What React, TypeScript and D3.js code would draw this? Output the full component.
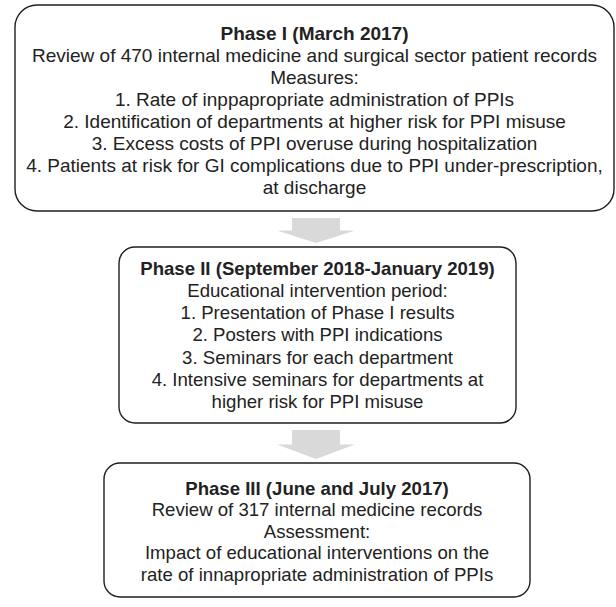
import React, { useEffect, useRef } from 'react';
import * as d3 from 'd3';

// Text of the three phases
const phaseTitles = [
  'Phase I (March 2017)',
  'Phase II (September 2018-January 2019)',
  'Phase III (June and July 2017)',
];

const phaseOneLines = [
  'Review of 470 internal medicine and surgical sector patient records',
  'Measures:',
  '1. Rate of inppapropriate administration of PPIs',
  '2. Identification of departments at higher risk for PPI misuse',
  '3. Excess costs of PPI overuse during hospitalization',
  '4. Patients at risk for GI complications due to PPI under-prescription,',
  'at discharge',
];

const phaseTwoLines = [
  'Educational intervention period:',
  '1. Presentation of Phase I results',
  '2. Posters with PPI indications',
  '3. Seminars for each department',
  '4. Intensive seminars for departments at',
  'higher risk for PPI misuse',
];

const phaseThreeLines = [
  'Review of 317 internal medicine records',
  'Assessment:',
  'Impact of educational interventions on the',
  'rate of innapropriate administration of PPIs',
];

interface BoxLayout {
  x: number;
  y: number;
  w: number;
  h: number;
  r: number;
  top: number;
  gap: number;
  size: number;
}

const W = 616;
const H = 607;

const layouts: BoxLayout[] = [
  { x: 15, y: 5, w: 599, h: 206, r: 22, top: 33, gap: 22, size: 19 },
  { x: 119, y: 247, w: 397, h: 176, r: 16, top: 268, gap: 22.3, size: 18.6 },
  { x: 104, y: 463, w: 426, h: 134, r: 16, top: 488, gap: 21.5, size: 18.6 },
];

const App: React.FC = () => {
  const svgRef = useRef<SVGSVGElement>(null);

  useEffect(() => {
    if (!svgRef.current) return;
    const svg = d3.select(svgRef.current);
    svg.selectAll('*').remove();

    const bodies = [phaseOneLines, phaseTwoLines, phaseThreeLines];

    // Block arrows between boxes
    const cx = 316;
    for (let i = 0; i < layouts.length - 1; i++) {
      const y0 = layouts[i].y + layouts[i].h + 7;
      const y1 = layouts[i + 1].y - 4;
      const neck = y0 + (y1 - y0) * 0.5;
      const p = d3.path();
      p.moveTo(cx - 24, y0);
      p.lineTo(cx + 24, y0);
      p.lineTo(cx + 24, neck);
      p.lineTo(cx + 39, neck);
      p.lineTo(cx, y1);
      p.lineTo(cx - 39, neck);
      p.lineTo(cx - 24, neck);
      p.closePath();
      svg.append('path').attr('d', p.toString()).attr('fill', '#d9d9d9');
    }

    layouts.forEach((b, i) => {
      const g = svg.append('g');
      g.append('rect')
        .attr('x', b.x)
        .attr('y', b.y)
        .attr('width', b.w)
        .attr('height', b.h)
        .attr('rx', b.r)
        .attr('ry', b.r)
        .attr('fill', 'none')
        .attr('stroke', '#1e1e1e')
        .attr('stroke-width', 1.4);

      const lines = [phaseTitles[i], ...bodies[i]];
      g.selectAll('text')
        .data(lines)
        .enter()
        .append('text')
        .attr('x', b.x + b.w / 2)
        .attr('y', (d, j) => b.top + j * b.gap)
        .attr('dy', '0.35em')
        .attr('text-anchor', 'middle')
        .attr('font-family', '"Liberation Sans", Arial, sans-serif')
        .attr('font-size', b.size)
        .attr('font-weight', (d, j) => (j === 0 ? 'bold' : 'normal'))
        .attr('fill', '#222')
        .text(d => d);
    });
  }, []);

  return (
    <svg
      ref={svgRef}
      width={W}
      height={H}
      style={{ position: 'absolute', left: 0, top: 0, background: 'white' }}
    ></svg>
  );
};

export default App;
